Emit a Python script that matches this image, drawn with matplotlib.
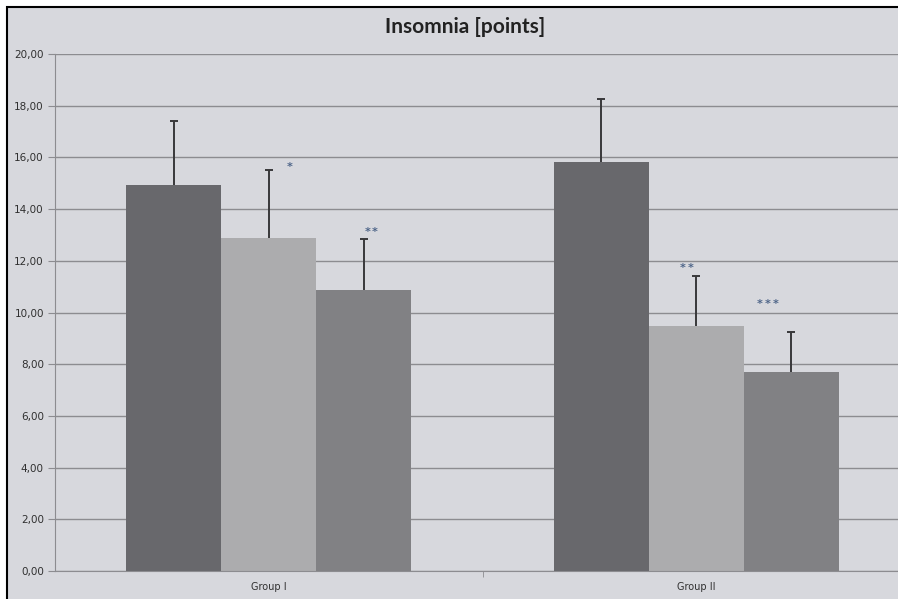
import numpy as np
import matplotlib.pyplot as plt
from matplotlib.patches import Rectangle
from matplotlib.ticker import FuncFormatter

# Data
groups = ['Group I', 'Group II']
means_1 = [14.93, 15.82]
means_2 = [12.88, 9.48]
means_3 = [10.87, 7.70]
err_1 = [2.48, 2.44]
err_2 = [2.63, 1.93]
err_3 = [1.97, 1.55]
stars_2 = [1, 2]
stars_3 = [2, 3]

colors = ['#68686c', '#acacae', '#818184']
bg = '#d7d8dd'

fig = plt.figure(figsize=(8.98, 5.99), dpi=100)
fig.patch.set_facecolor('white')
# chart area: only the left and top border fall inside the image
fig.patches.append(Rectangle((7 / 898, -10 / 599), 910 / 898, 602 / 599,
                             transform=fig.transFigure, facecolor=bg,
                             edgecolor='black', linewidth=1.5, zorder=-10))

ax = fig.add_axes([55 / 898, 28 / 599, 843 / 898, 517 / 599])
ax.set_facecolor(bg)

x = np.arange(len(groups))
w = 95 / 427.5
series = [(means_1, err_1), (means_2, err_2), (means_3, err_3)]
for i, (m, e) in enumerate(series):
    pos = x + (i - 1) * w
    ax.bar(pos, m, width=w, color=colors[i], zorder=2)
    _, caps, _ = ax.errorbar(pos, m, yerr=[np.zeros(len(m)), e], fmt='none',
                             ecolor='#38383a', elinewidth=1.4, capsize=3,
                             capthick=1.4, zorder=3)
    caps[0].set_visible(False)  # no cap at the bar top


def stars(xc, yc, n):
    for k in range(n):
        ax.annotate('*', xy=(xc, yc), xytext=((k - (n - 1) / 2) * 5.5, 0),
                    textcoords='offset points', ha='center', va='center',
                    fontsize=8, fontweight='bold', color='#4d6488', zorder=4)


# significance marks
for j in range(len(groups)):
    top2 = means_2[j] + err_2[j]
    top3 = means_3[j] + err_3[j]
    stars(x[j] + [0.049, -0.022][j], top2 + [0.12, 0.31][j], stars_2[j])
    stars(x[j] + w + [0.017, -0.055][j], top3 + [0.27, 1.08][j], stars_3[j])

ax.set_xlim(-0.5, -0.5 + 843 / 427.5)
ax.set_ylim(0, 20)
ax.set_yticks(np.arange(0, 21, 2))
ax.yaxis.set_major_formatter(FuncFormatter(lambda v, p: f'{v:.2f}'.replace('.', ',')))
ax.grid(axis='y', color='#8c8c90', linewidth=1, zorder=1)
ax.set_axisbelow(True)

ax.set_xticks(x)
ax.set_xticklabels(groups)
ax.set_xticks([0.5], minor=True)
ax.tick_params(axis='x', which='major', length=0, pad=8, labelsize=7, labelcolor='#303030')
ax.tick_params(axis='x', which='minor', length=4, color='#8c8c90')
ax.tick_params(axis='y', length=5, color='#8c8c90', labelsize=7.5, labelcolor='#303030', pad=3)

for s in ['top', 'right']:
    ax.spines[s].set_visible(False)
for s in ['left', 'bottom']:
    ax.spines[s].set_color('#8c8c90')

fig.text(465 / 898, 1 - 27 / 599, 'Insomnia [points]', ha='center', va='center',
         fontsize=15, fontweight='bold', color='#222222', family='Lato')

plt.savefig('out.png', dpi=100, facecolor=fig.get_facecolor())
